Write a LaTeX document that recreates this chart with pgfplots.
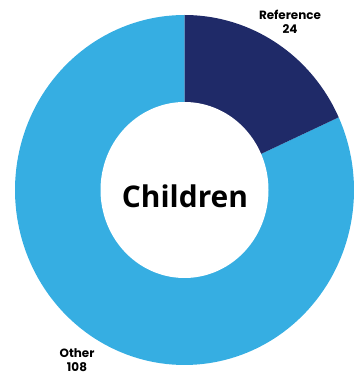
\documentclass[border=0pt]{standalone}
\usepackage{pgfplots}
\pgfplotsset{compat=1.18}
\usepackage{pgfplotstable}
\usepackage{fontspec}
\setmainfont{Poppins}
\newfontfamily\titlefont{Open Sans}
\definecolor{navy}{RGB}{31,42,104}
\definecolor{sky}{RGB}{54,174,226}
\pgfplotstableread{
label value
Reference 24
Other 108
}\piedata
\pgfplotstablegetelem{0}{value}\of\piedata \let\vA\pgfplotsretval
\pgfplotstablegetelem{1}{value}\of\piedata \let\vB\pgfplotsretval
\pgfmathsetmacro\total{\vA+\vB}
\pgfmathsetmacro\angA{90-360*\vA/\total}
\begin{document}
\begin{tikzpicture}
\begin{axis}[width=359bp,height=378bp,scale only axis,
  xmin=0,xmax=359,ymin=0,ymax=378,hide axis,clip=false]
\path (rel axis cs:0,0) rectangle (rel axis cs:1,1);
\addplot[fill=sky,draw=none,domain=-270:\angA,samples=150]
  ({184.5+169.5*cos(x)},{188+175*sin(x)}) -- (axis cs:184.5,188) -- cycle;
\addplot[fill=navy,draw=none,domain=\angA:90,samples=60]
  ({184.5+169.5*cos(x)},{188+175*sin(x)}) -- (axis cs:184.5,188) -- cycle;
\addplot[fill=white,draw=none,domain=0:360,samples=150]
  ({184.5+84*cos(x)},{188+88*sin(x)}) -- cycle;
\node[font=\titlefont\bfseries\fontsize{30}{30}\selectfont] at (axis cs:185,182) {Children};
\node[align=center,inner sep=0pt,font=\bfseries\fontsize{12}{14}\selectfont] at (axis cs:290,356) {Reference\\24};
\node[align=center,inner sep=0pt,font=\bfseries\fontsize{12}{14}\selectfont] at (axis cs:77,18) {Other\\108};
\end{axis}
\end{tikzpicture}
\end{document}
